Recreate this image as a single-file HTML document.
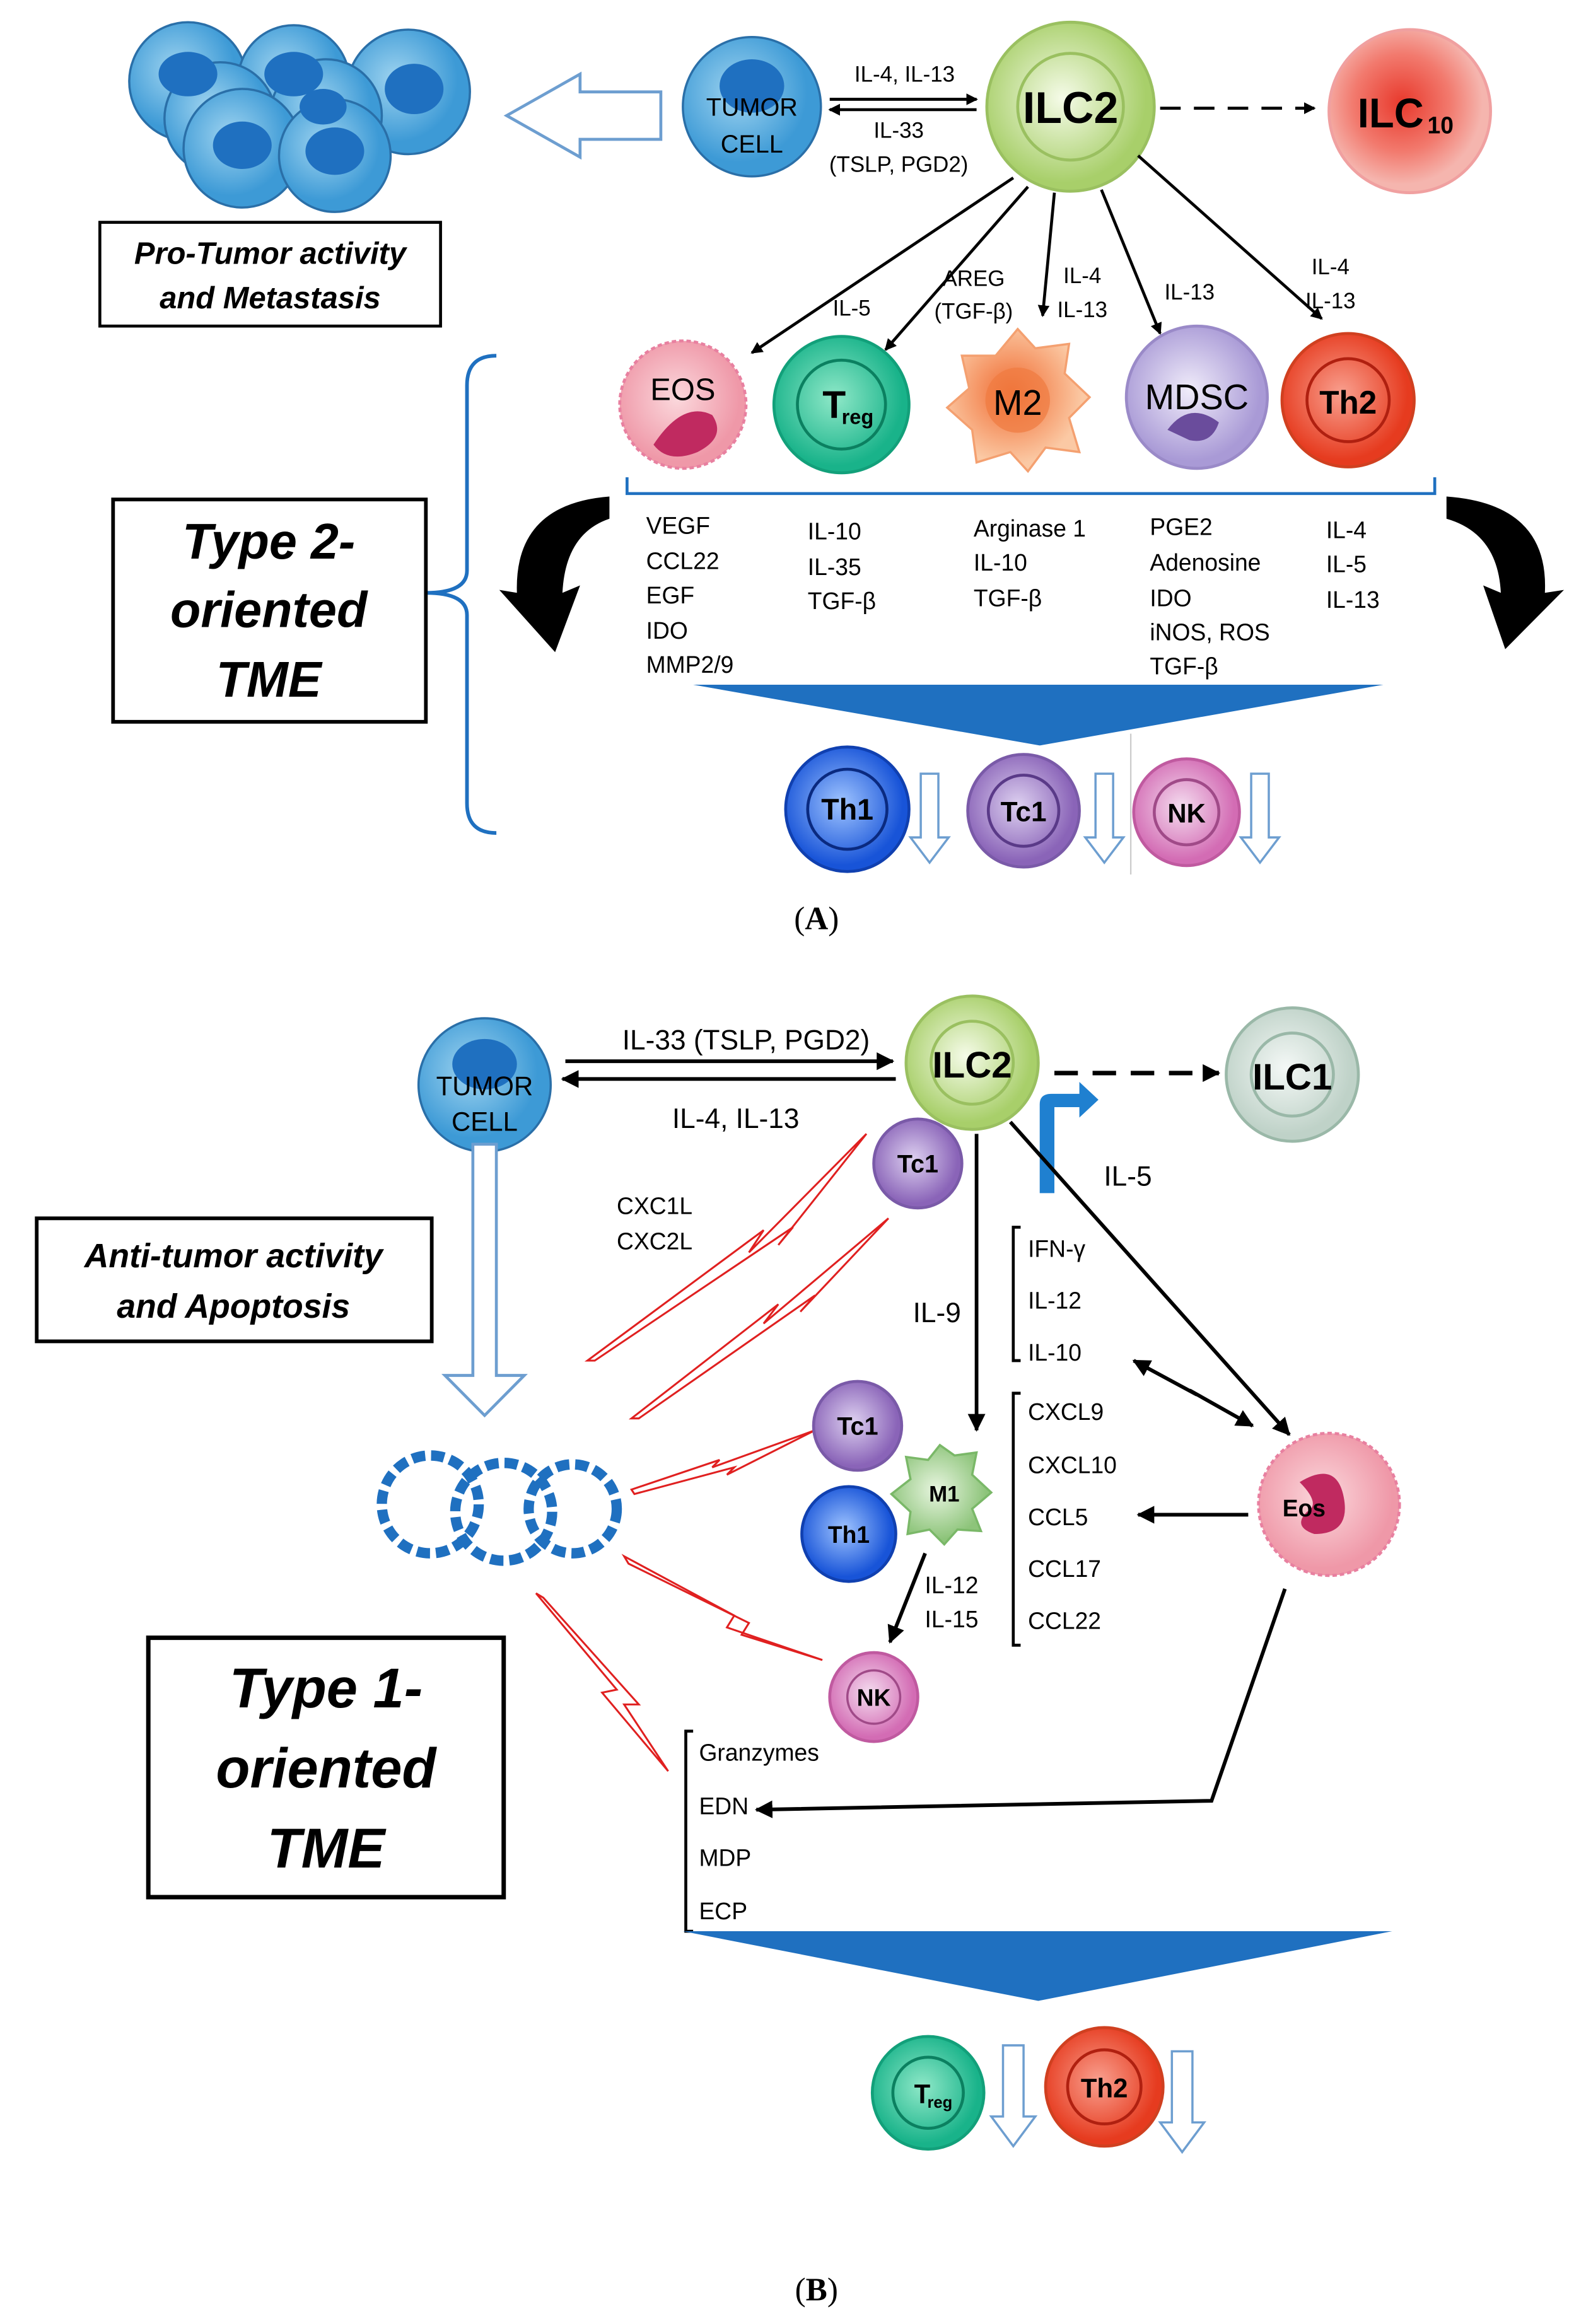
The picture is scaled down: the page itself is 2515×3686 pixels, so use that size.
<!DOCTYPE html>
<html><head><meta charset="utf-8"><style>html,body{margin:0;padding:0;background:#fff}svg{display:block}text{font-family:"Liberation Sans",sans-serif}</style></head><body>
<svg width="2515" height="3686" viewBox="0 0 1080 1568" preserveAspectRatio="none" xmlns="http://www.w3.org/2000/svg">
<defs>
<marker id="ah" markerWidth="8" markerHeight="8" refX="7" refY="4" orient="auto" markerUnits="userSpaceOnUse"><path d="M0,0 L8,4 L0,8 z" fill="#000"/></marker>
<marker id="ah2" markerWidth="12" markerHeight="12" refX="11" refY="6" orient="auto" markerUnits="userSpaceOnUse"><path d="M0,0 L12,6 L0,12 z" fill="#000"/></marker>
<radialGradient id="gB" cx="40%" cy="40%"><stop offset="0" stop-color="#9fd4f0"/><stop offset="1" stop-color="#3d9ad6"/></radialGradient>
<radialGradient id="gG" cx="45%" cy="45%"><stop offset="0" stop-color="#f5fbe8"/><stop offset="1" stop-color="#a8cf6a"/></radialGradient>
<radialGradient id="gR" cx="45%" cy="45%"><stop offset="0" stop-color="#e8392c"/><stop offset="0.6" stop-color="#f27a6e"/><stop offset="1" stop-color="#f5b5ae"/></radialGradient>
<radialGradient id="gT" cx="45%" cy="45%"><stop offset="0" stop-color="#8fe8c8"/><stop offset="1" stop-color="#19b38a"/></radialGradient>
<radialGradient id="gO" cx="45%" cy="45%"><stop offset="0" stop-color="#f06a30"/><stop offset="1" stop-color="#fbc9a4"/></radialGradient>
<radialGradient id="gL" cx="45%" cy="45%"><stop offset="0" stop-color="#f0ecfa"/><stop offset="1" stop-color="#a99ad6"/></radialGradient>
<radialGradient id="gRd" cx="45%" cy="45%"><stop offset="0" stop-color="#f9a08f"/><stop offset="1" stop-color="#e63b1f"/></radialGradient>
<radialGradient id="gBl" cx="45%" cy="45%"><stop offset="0" stop-color="#9fc4ff"/><stop offset="1" stop-color="#1854d8"/></radialGradient>
<radialGradient id="gP" cx="45%" cy="45%"><stop offset="0" stop-color="#ddd0f0"/><stop offset="1" stop-color="#8a64b8"/></radialGradient>
<radialGradient id="gPk" cx="45%" cy="45%"><stop offset="0" stop-color="#f4dcef"/><stop offset="1" stop-color="#d36cb4"/></radialGradient>
<radialGradient id="gE" cx="45%" cy="45%"><stop offset="0" stop-color="#fbd8dc"/><stop offset="1" stop-color="#ef98a8"/></radialGradient>
<radialGradient id="gGy" cx="45%" cy="45%"><stop offset="0" stop-color="#f4f8f6"/><stop offset="1" stop-color="#bfd2c8"/></radialGradient>
<radialGradient id="gM1" cx="45%" cy="45%"><stop offset="0" stop-color="#e8f5e0"/><stop offset="1" stop-color="#8dc47a"/></radialGradient>
</defs>

<!-- Panel A -->
<g stroke="#2a6fa8" stroke-width="1.5" fill="url(#gB)">
<circle cx="128" cy="55" r="40"/><circle cx="200" cy="55" r="38"/><circle cx="278" cy="62" r="42"/>
<circle cx="150" cy="80" r="38"/><circle cx="222" cy="78" r="38"/>
<circle cx="165" cy="100" r="40"/><circle cx="228" cy="105" r="38"/>
</g>
<g fill="#1f70c0"><ellipse cx="128" cy="50" rx="20" ry="15"/><ellipse cx="200" cy="50" rx="20" ry="15"/><ellipse cx="282" cy="60" rx="20" ry="17"/><ellipse cx="165" cy="98" rx="20" ry="16"/><ellipse cx="228" cy="102" rx="20" ry="16"/><ellipse cx="220" cy="72" rx="16" ry="12"/></g>
<path d="M450,62 L395,62 L395,50 L345,78 L395,106 L395,94 L450,94 Z" fill="#fff" stroke="#6d9ed0" stroke-width="2"/>
<circle cx="512" cy="72" r="47" fill="url(#gB)" stroke="#2a6fa8" stroke-width="1.5"/>
<ellipse cx="512" cy="58" rx="22" ry="18" fill="#1f70c0"/>
<text x="512" y="78" font-size="17" text-anchor="middle">TUMOR</text><text x="512" y="103" font-size="17" text-anchor="middle">CELL</text>
<line x1="565" y1="67" x2="665" y2="67" stroke="#000" stroke-width="2" marker-end="url(#ah)"/>
<line x1="665" y1="74" x2="565" y2="74" stroke="#000" stroke-width="2" marker-end="url(#ah)"/>
<text x="616" y="55" font-size="15" text-anchor="middle">IL-4, IL-13</text>
<text x="612" y="93" font-size="15" text-anchor="middle">IL-33</text>
<text x="612" y="116" font-size="15" text-anchor="middle">(TSLP, PGD2)</text>
<circle cx="729" cy="72" r="57" fill="url(#gG)" stroke="#9ac060" stroke-width="2"/>
<circle cx="729" cy="72" r="36" fill="none" stroke="#9ac060" stroke-width="2"/>
<text x="729" y="83" font-size="30" font-weight="bold" text-anchor="middle">ILC2</text>
<line x1="790" y1="73" x2="895" y2="73" stroke="#000" stroke-width="2" stroke-dasharray="14,9" marker-end="url(#ah)"/>
<circle cx="960" cy="75" r="55" fill="url(#gR)" stroke="#f0a0a0" stroke-width="2"/>
<text x="947" y="86" font-size="28" font-weight="bold" text-anchor="middle">ILC</text><text x="972" y="90" font-size="16" font-weight="bold">10</text>
<rect x="68" y="150" width="232" height="70" fill="#fff" stroke="#000" stroke-width="2"/>
<text x="184" y="178" font-size="21" font-weight="bold" font-style="italic" text-anchor="middle">Pro-Tumor activity</text>
<text x="184" y="208" font-size="21" font-weight="bold" font-style="italic" text-anchor="middle">and Metastasis</text>
<g stroke="#000" stroke-width="2" marker-end="url(#ah)">
<line x1="690" y1="120" x2="512" y2="238"/><line x1="700" y1="126" x2="603" y2="236"/>
<line x1="718" y1="130" x2="710" y2="213"/><line x1="750" y1="128" x2="790" y2="225"/><line x1="775" y1="105" x2="900" y2="215"/>
</g>
<g font-size="15" text-anchor="middle">
<text x="580" y="213">IL-5</text><text x="663" y="193">AREG</text><text x="663" y="215">(TGF-β)</text>
<text x="737" y="191">IL-4</text><text x="737" y="214">IL-13</text><text x="810" y="202">IL-13</text>
<text x="906" y="185">IL-4</text><text x="906" y="208">IL-13</text></g>
<circle cx="465" cy="273" r="43" fill="url(#gE)" stroke="#e880a0" stroke-width="2" stroke-dasharray="3,2"/>
<path d="M445,300 q20,-30 40,-20 q10,15 -10,25 q-20,8 -30,-5z" fill="#c02a60"/>
<text x="465" y="270" font-size="21" text-anchor="middle">EOS</text>
<circle cx="573" cy="273" r="46" fill="url(#gT)" stroke="#12a07a" stroke-width="2"/>
<circle cx="573" cy="273" r="30" fill="none" stroke="#0b8060" stroke-width="2"/>
<text x="568" y="282" font-size="26" font-weight="bold" text-anchor="middle">T</text><text x="584" y="286" font-size="14" font-weight="bold" text-anchor="middle">reg</text>
<path d="M693,222 L705,235 L728,232 L725,252 L742,268 L728,282 L735,305 L712,302 L700,318 L688,305 L665,312 L662,290 L645,275 L660,262 L655,240 L678,240Z" fill="url(#gO)" stroke="#f4a070" stroke-width="1.5"/>
<circle cx="693" cy="270" r="22" fill="#f07a40" opacity="0.7"/>
<text x="693" y="280" font-size="24" text-anchor="middle">M2</text>
<circle cx="815" cy="268" r="48" fill="url(#gL)" stroke="#9a8ac8" stroke-width="2"/>
<path d="M795,290 q15,-20 35,-5 q-5,15 -20,12 z" fill="#6a4c9c"/>
<text x="815" y="276" font-size="24" text-anchor="middle">MDSC</text>
<circle cx="918" cy="270" r="45" fill="url(#gRd)" stroke="#d04020" stroke-width="2"/>
<circle cx="918" cy="270" r="28" fill="none" stroke="#b02010" stroke-width="2"/>
<text x="918" y="279" font-size="22" font-weight="bold" text-anchor="middle">Th2</text>
<path d="M427,322 L427,333 L977,333 L977,322" fill="none" stroke="#1f70c0" stroke-width="2"/>
<path d="M338,240 Q318,240 318,260 L318,385 Q318,400 290,400 Q318,400 318,415 L318,542 Q318,562 338,562" fill="none" stroke="#1f70c0" stroke-width="2.5"/>
<rect x="77" y="337" width="213" height="150" fill="#fff" stroke="#000" stroke-width="2.5"/>
<g font-size="34" font-weight="bold" font-style="italic" text-anchor="middle"><text x="183" y="377">Type 2-</text><text x="183" y="423">oriented</text><text x="183" y="470">TME</text></g>
<path d="M415,335 Q350,340 352,400 L340,398 L378,440 L395,395 L383,400 Q385,360 415,350Z" fill="#000"/>
<path d="M985,335 Q1055,340 1052,400 L1065,398 L1025,438 L1010,395 L1022,400 Q1020,360 985,350Z" fill="#000"/>
<g font-size="16">
<text x="440" y="360">VEGF</text><text x="440" y="384">CCL22</text><text x="440" y="407">EGF</text><text x="440" y="431">IDO</text><text x="440" y="454">MMP2/9</text>
<text x="550" y="364">IL-10</text><text x="550" y="388">IL-35</text><text x="550" y="411">TGF-β</text>
<text x="663" y="362">Arginase 1</text><text x="663" y="385">IL-10</text><text x="663" y="409">TGF-β</text>
<text x="783" y="361">PGE2</text><text x="783" y="385">Adenosine</text><text x="783" y="409">IDO</text><text x="783" y="432">iNOS, ROS</text><text x="783" y="455">TGF-β</text>
<text x="903" y="363">IL-4</text><text x="903" y="386">IL-5</text><text x="903" y="410">IL-13</text></g>
<path d="M472,462 L942,462 L708,503Z" fill="#1f70c0"/>
<circle cx="577" cy="546" r="42" fill="url(#gBl)" stroke="#1040b0" stroke-width="2"/><circle cx="577" cy="546" r="27" fill="none" stroke="#0a2a80" stroke-width="2"/>
<text x="577" y="553" font-size="20" font-weight="bold" text-anchor="middle">Th1</text>
<circle cx="697" cy="547" r="38" fill="url(#gP)" stroke="#7a5aa8" stroke-width="2"/><circle cx="697" cy="547" r="24" fill="none" stroke="#5a3a88" stroke-width="2"/>
<text x="697" y="554" font-size="19" font-weight="bold" text-anchor="middle">Tc1</text>
<circle cx="808" cy="548" r="36" fill="url(#gPk)" stroke="#c05aa0" stroke-width="2"/><circle cx="808" cy="548" r="22" fill="none" stroke="#a04a88" stroke-width="2"/>
<text x="808" y="555" font-size="18" font-weight="bold" text-anchor="middle">NK</text>
<line x1="770" y1="495" x2="770" y2="590" stroke="#ccc" stroke-width="1"/>
<g fill="#fff" stroke="#6d9ed0" stroke-width="1.5">
<path d="M627,522 L639,522 L639,565 L646,565 L633,582 L620,565 L627,565Z"/>
<path d="M746,522 L758,522 L758,565 L765,565 L752,582 L739,565 L746,565Z"/>
<path d="M852,522 L864,522 L864,565 L871,565 L858,582 L845,565 L852,565Z"/></g>
<text x="556" y="627" font-size="22" text-anchor="middle" style="font-family:'Liberation Serif',serif">(<tspan font-weight="bold">A</tspan>)</text>

<!-- Panel B -->
<circle cx="330" cy="732" r="45" fill="url(#gB)" stroke="#2a6fa8" stroke-width="1.5"/>
<ellipse cx="330" cy="718" rx="22" ry="17" fill="#1f70c0"/>
<text x="330" y="739" font-size="18" text-anchor="middle">TUMOR</text><text x="330" y="763" font-size="18" text-anchor="middle">CELL</text>
<line x1="385" y1="716" x2="608" y2="716" stroke="#000" stroke-width="2.5" marker-end="url(#ah2)"/>
<line x1="610" y1="728" x2="383" y2="728" stroke="#000" stroke-width="2.5" marker-end="url(#ah2)"/>
<text x="508" y="708" font-size="19" text-anchor="middle">IL-33 (TSLP, PGD2)</text>
<text x="501" y="761" font-size="19" text-anchor="middle">IL-4, IL-13</text>
<circle cx="662" cy="717" r="45" fill="url(#gG)" stroke="#9ac060" stroke-width="2"/><circle cx="662" cy="717" r="28" fill="none" stroke="#9ac060" stroke-width="2"/>
<text x="662" y="727" font-size="25" font-weight="bold" text-anchor="middle">ILC2</text>
<line x1="718" y1="724" x2="830" y2="724" stroke="#000" stroke-width="3" stroke-dasharray="16,10" marker-end="url(#ah2)"/>
<circle cx="880" cy="725" r="45" fill="url(#gGy)" stroke="#9ab8a8" stroke-width="2"/><circle cx="880" cy="725" r="28" fill="none" stroke="#9ab8a8" stroke-width="2"/>
<text x="880" y="735" font-size="25" font-weight="bold" text-anchor="middle">ILC1</text>
<path d="M708,805 L708,745 Q708,738 716,738 L735,738 L735,730 L748,742 L735,754 L735,747 L718,747 L718,805Z" fill="#1f80d0"/>
<text x="768" y="800" font-size="19" text-anchor="middle">IL-5</text>
<circle cx="625" cy="785" r="30" fill="url(#gP)" stroke="#7a5aa8" stroke-width="2"/>
<text x="625" y="791" font-size="17" font-weight="bold" text-anchor="middle">Tc1</text>
<rect x="25" y="822" width="269" height="83" fill="#fff" stroke="#000" stroke-width="2.5"/>
<text x="159" y="855" font-size="23" font-weight="bold" font-style="italic" text-anchor="middle">Anti-tumor activity</text>
<text x="159" y="889" font-size="23" font-weight="bold" font-style="italic" text-anchor="middle">and Apoptosis</text>
<path d="M322,772 L338,772 L338,928 L357,928 L330,955 L303,928 L322,928Z" fill="#fff" stroke="#6d9ed0" stroke-width="2"/>
<text x="420" y="819" font-size="16">CXC1L</text><text x="420" y="843" font-size="16">CXC2L</text>
<g fill="none" stroke="#1f70c0" stroke-width="7" stroke-dasharray="9,4">
<circle cx="293" cy="1015" r="33"/><circle cx="343" cy="1020" r="33"/><circle cx="390" cy="1018" r="30"/></g>
<g fill="none" stroke="#e02020" stroke-width="1.3">
<path d="M400,918 L520,830 L510,845 L590,765 L530,840 L540,828 L405,918Z"/>
<path d="M430,957 L530,880 L520,893 L605,822 L545,885 L555,874 L435,957Z"/>
<path d="M430,1005 L490,985 L485,990 L555,965 L495,995 L500,990 L432,1008Z"/>
<path d="M425,1050 L500,1090 L495,1098 L560,1120 L505,1103 L510,1095 L428,1055Z"/>
<path d="M365,1075 L420,1140 L410,1142 L455,1195 L425,1150 L435,1150 L370,1078Z"/></g>
<line x1="665" y1="765" x2="665" y2="965" stroke="#000" stroke-width="2.5" marker-end="url(#ah2)"/>
<text x="638" y="892" font-size="19" text-anchor="middle">IL-9</text>
<line x1="688" y1="757" x2="878" y2="968" stroke="#000" stroke-width="2.5" marker-end="url(#ah2)"/>
<path d="M695,828 L690,828 L690,918 L695,918" fill="none" stroke="#000" stroke-width="2"/>
<g font-size="16"><text x="700" y="848">IFN-γ</text><text x="700" y="883">IL-12</text><text x="700" y="918">IL-10</text>
<text x="700" y="958">CXCL9</text><text x="700" y="994">CXCL10</text><text x="700" y="1029">CCL5</text><text x="700" y="1064">CCL17</text><text x="700" y="1099">CCL22</text></g>
<line x1="815" y1="941" x2="772" y2="918" stroke="#000" stroke-width="2.5" marker-end="url(#ah2)"/>
<line x1="810" y1="938" x2="853" y2="962" stroke="#000" stroke-width="2.5" marker-end="url(#ah2)"/>
<path d="M695,940 L690,940 L690,1110 L695,1110" fill="none" stroke="#000" stroke-width="2"/>
<line x1="850" y1="1022" x2="775" y2="1022" stroke="#000" stroke-width="2.5" marker-end="url(#ah2)"/>
<circle cx="905" cy="1015" r="48" fill="url(#gE)" stroke="#e880a0" stroke-width="2" stroke-dasharray="3,2"/>
<path d="M885,1000 q25,-15 30,10 q5,25 -20,25 q-15,-5 -5,-15 q10,-5 -5,-20z" fill="#c02a60"/>
<text x="888" y="1023" font-size="16" font-weight="bold" text-anchor="middle">Eos</text>
<circle cx="584" cy="962" r="30" fill="url(#gP)" stroke="#7a5aa8" stroke-width="2"/>
<text x="584" y="968" font-size="17" font-weight="bold" text-anchor="middle">Tc1</text>
<path d="M640,975 L650,982 L665,980 L662,995 L675,1007 L662,1018 L668,1033 L652,1032 L643,1042 L633,1032 L618,1035 L620,1020 L607,1008 L620,998 L617,983 L632,985Z" fill="url(#gM1)" stroke="#7ab868" stroke-width="1.5"/>
<text x="643" y="1013" font-size="15" font-weight="bold" text-anchor="middle">M1</text>
<circle cx="578" cy="1035" r="32" fill="url(#gBl)" stroke="#1040b0" stroke-width="2"/>
<text x="578" y="1041" font-size="16" font-weight="bold" text-anchor="middle">Th1</text>
<line x1="630" y1="1048" x2="606" y2="1108" stroke="#000" stroke-width="2.5" marker-end="url(#ah2)"/>
<text x="648" y="1075" font-size="16" text-anchor="middle">IL-12</text><text x="648" y="1098" font-size="16" text-anchor="middle">IL-15</text>
<circle cx="595" cy="1145" r="30" fill="url(#gPk)" stroke="#c05aa0" stroke-width="2"/><circle cx="595" cy="1145" r="18" fill="none" stroke="#a04a88" stroke-width="1.5"/>
<text x="595" y="1151" font-size="16" font-weight="bold" text-anchor="middle">NK</text>
<rect x="101" y="1105" width="242" height="175" fill="#fff" stroke="#000" stroke-width="3"/>
<g font-size="38" font-weight="bold" font-style="italic" text-anchor="middle"><text x="222" y="1152">Type 1-</text><text x="222" y="1206">oriented</text><text x="222" y="1260">TME</text></g>
<path d="M472,1168 L467,1168 L467,1303 L472,1303" fill="none" stroke="#000" stroke-width="2"/>
<g font-size="16"><text x="476" y="1188">Granzymes</text><text x="476" y="1224">EDN</text><text x="476" y="1259">MDP</text><text x="476" y="1295">ECP</text></g>
<path d="M875,1072 L825,1215 L515,1221" fill="none" stroke="#000" stroke-width="2.5" marker-end="url(#ah2)"/>
<path d="M465,1303 L948,1303 L707,1350Z" fill="#1f70c0"/>
<circle cx="632" cy="1412" r="38" fill="url(#gT)" stroke="#12a07a" stroke-width="2"/><circle cx="632" cy="1412" r="24" fill="none" stroke="#0b8060" stroke-width="2"/>
<text x="628" y="1419" font-size="18" font-weight="bold" text-anchor="middle">T</text><text x="640" y="1422" font-size="11" font-weight="bold" text-anchor="middle">reg</text>
<circle cx="752" cy="1408" r="40" fill="url(#gRd)" stroke="#d04020" stroke-width="2"/><circle cx="752" cy="1408" r="25" fill="none" stroke="#b02010" stroke-width="2"/>
<text x="752" y="1415" font-size="18" font-weight="bold" text-anchor="middle">Th2</text>
<g fill="#fff" stroke="#6d9ed0" stroke-width="1.5">
<path d="M683,1380 L697,1380 L697,1428 L705,1428 L690,1448 L675,1428 L683,1428Z"/>
<path d="M798,1384 L812,1384 L812,1432 L820,1432 L805,1452 L790,1432 L798,1432Z"/></g>
<text x="556" y="1552" font-size="22" text-anchor="middle" style="font-family:'Liberation Serif',serif">(<tspan font-weight="bold">B</tspan>)</text>
</svg>
</body></html>
